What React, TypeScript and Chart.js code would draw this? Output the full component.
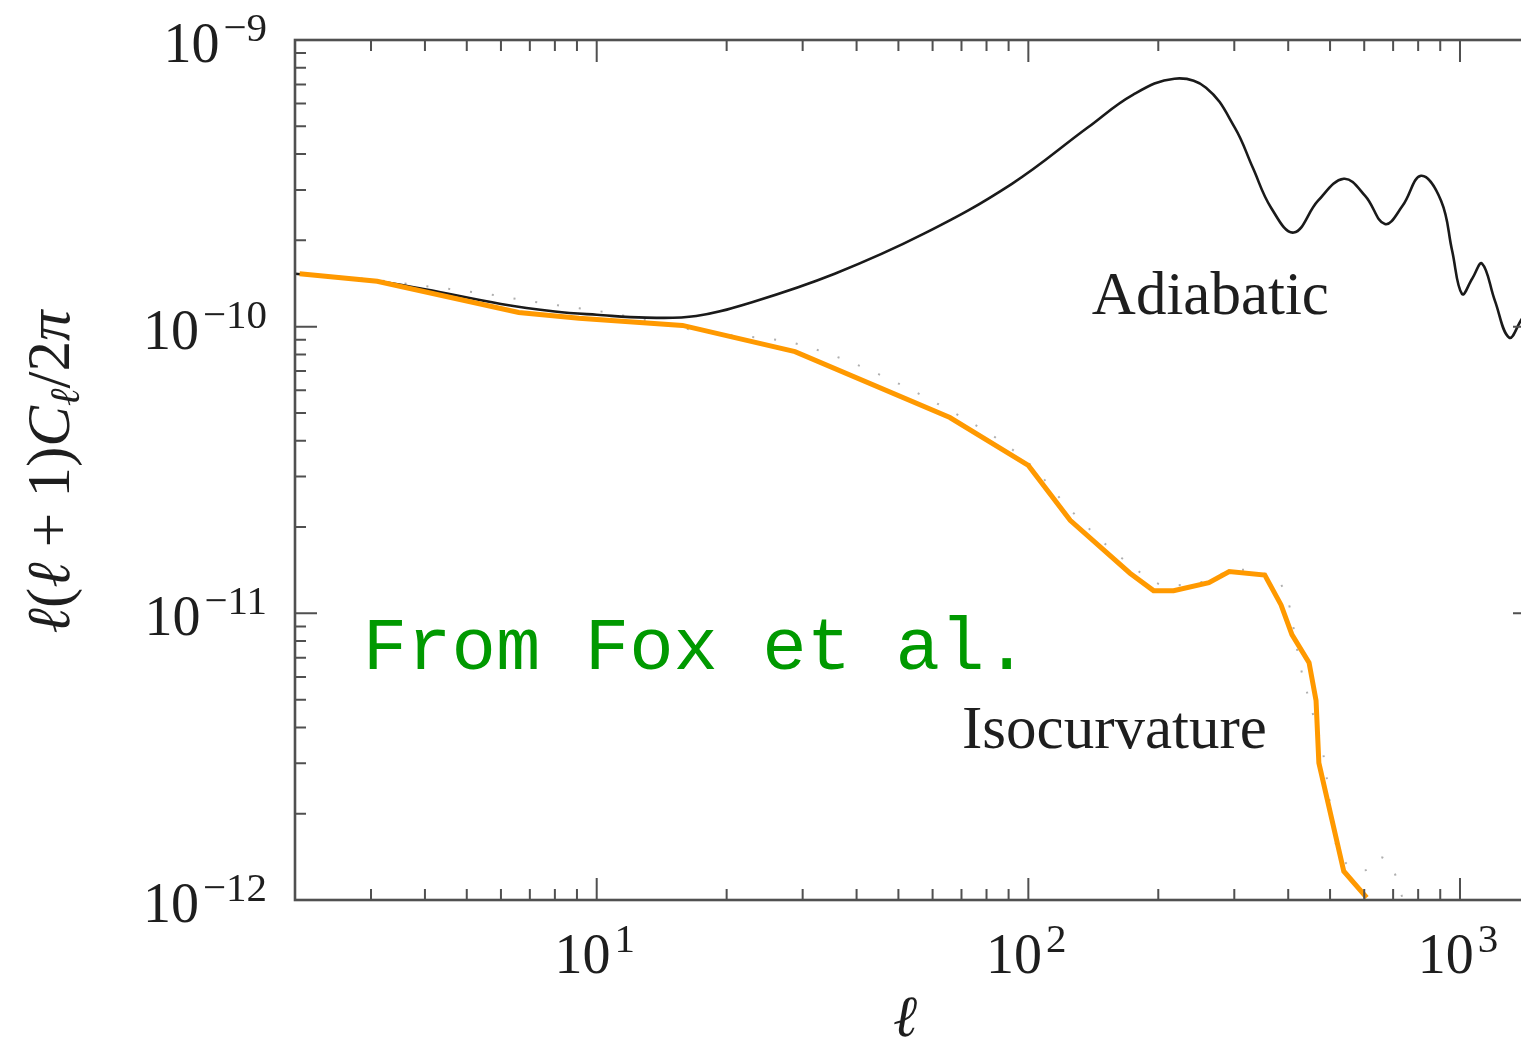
import React, { useEffect, useRef } from "react";
import { Chart, registerables } from "chart.js";

Chart.register(...registerables);

// Isocurvature (orange piecewise fit)
const isoL = [2.05, 3.1, 6.6, 9.1, 15.8, 28.8, 65.8, 100, 125, 172, 195, 217, 262, 292, 353, 385, 408, 447, 464, 471, 538, 608];
const isoC = [1.53e-10, 1.44e-10, 1.12e-10, 1.07e-10, 1.01e-10, 8.18e-11, 4.82e-11, 3.28e-11, 2.11e-11, 1.38e-11, 1.2e-11, 1.2e-11, 1.28e-11, 1.4e-11, 1.36e-11, 1.07e-11, 8.43e-12, 6.73e-12, 4.96e-12, 3.01e-12, 1.26e-12, 1.02e-12];

// Adiabatic (black curve)
const adL = [2, 3, 4, 6, 8, 10, 13, 17, 23, 35.6, 57.3, 91.6, 137, 175, 218, 258, 301, 331, 365, 412, 469, 538, 603, 670, 736, 812, 904, 959, 1011, 1067, 1125, 1205, 1300, 1394, 1480];
const adC = [1.53e-10, 1.45e-10, 1.35e-10, 1.2e-10, 1.13e-10, 1.1e-10, 1.075e-10, 1.09e-10, 1.22e-10, 1.53e-10, 2.11e-10, 3.15e-10, 4.94e-10, 6.45e-10, 7.33e-10, 6.82e-10, 4.94e-10, 3.59e-10, 2.6e-10, 2.13e-10, 2.75e-10, 3.28e-10, 2.86e-10, 2.28e-10, 2.64e-10, 3.36e-10, 2.75e-10, 1.84e-10, 1.3e-10, 1.47e-10, 1.66e-10, 1.23e-10, 9.16e-11, 1.07e-10, 1.2e-10];

// Isocurvature model (faint dotted curve)
const dotL = [2, 3, 3.95, 5.56, 7.18, 10.6, 17.6, 30, 65.8, 100, 125, 170, 210, 260, 300, 350, 400, 425, 452, 482, 519, 603, 653, 703, 726, 766];
const dotC = [1.53e-10, 1.46e-10, 1.39e-10, 1.3e-10, 1.22e-10, 1.12e-10, 9.6e-11, 8.6e-11, 5.1e-11, 3.35e-11, 2.3e-11, 1.5e-11, 1.25e-11, 1.3e-11, 1.42e-11, 1.38e-11, 1.1e-11, 6.73e-12, 4.69e-12, 3.24e-12, 1.52e-12, 1.27e-12, 1.41e-12, 1.26e-12, 1.08e-12, 8.5e-13];

// Axis ticks and labels
const xMajor = [10, 100, 1000];
const xExp = ["1", "2", "3"];
const yMajor = [1e-12, 1e-11, 1e-10, 1e-9];
const yExp = ["\u221212", "\u221211", "\u221210", "\u22129"];
const minorMultipliers = [2, 3, 4, 5, 6, 7, 8, 9];

// Text annotations
const notes = [
  { text: "Adiabatic", l: 140.3, c: 1.11e-10, font: '61px "Liberation Serif"', color: "#1e1e1e" },
  { text: "Isocurvature", l: 70.2, c: 3.4e-12, font: '61px "Liberation Serif"', color: "#1e1e1e" },
  { text: "From Fox et al.", l: 2.87, c: 6.37e-12, font: '74px "Liberation Mono"', color: "#009900" },
];

const AXIS = "#505050";
const TXT = "#1e1e1e";
const SERIF = '"Liberation Serif"';

function drawPow(ctx: CanvasRenderingContext2D, exp: string, x: number, baseY: number, align: "right" | "center") {
  const bf = `56px ${SERIF}`;
  const ef = `41px ${SERIF}`;
  ctx.font = bf;
  const wb = ctx.measureText("10").width;
  ctx.font = ef;
  const we = ctx.measureText(exp).width;
  const gap = 4;
  const total = wb + gap + we;
  const start = align === "right" ? x - total : x - total / 2;
  ctx.textAlign = "left";
  ctx.textBaseline = "alphabetic";
  ctx.fillStyle = TXT;
  ctx.font = bf;
  ctx.fillText("10", start, baseY);
  ctx.font = ef;
  ctx.fillText(exp, start + wb + gap, baseY - 21);
}

const framePlugin = {
  id: "frame",
  afterDraw(chart: any) {
    const { ctx, chartArea: a, scales } = chart;
    const xs = scales.x;
    const ys = scales.y;
    ctx.save();
    ctx.strokeStyle = AXIS;
    ctx.lineWidth = 2;
    ctx.beginPath();
    const xTickVals: { v: number; major: boolean }[] = [];
    for (const m of [1, 10, 100, 1000]) {
      for (const k of minorMultipliers) xTickVals.push({ v: m * k, major: false });
    }
    for (const v of xMajor) xTickVals.push({ v, major: true });
    for (const t of xTickVals) {
      const px = xs.getPixelForValue(t.v);
      if (px <= a.left + 1 || px >= a.right - 1) continue;
      const len = t.major ? 22 : 11;
      ctx.moveTo(px, a.bottom);
      ctx.lineTo(px, a.bottom - len);
      ctx.moveTo(px, a.top);
      ctx.lineTo(px, a.top + len);
    }
    const yTickVals: { v: number; major: boolean }[] = [];
    for (const m of [1e-12, 1e-11, 1e-10]) {
      for (const k of minorMultipliers) yTickVals.push({ v: m * k, major: false });
    }
    for (const v of yMajor) yTickVals.push({ v, major: true });
    for (const t of yTickVals) {
      const py = ys.getPixelForValue(t.v);
      const len = t.major ? 22 : 11;
      ctx.moveTo(a.left, py);
      ctx.lineTo(a.left + len, py);
      ctx.moveTo(a.right, py);
      ctx.lineTo(a.right - len, py);
    }
    ctx.stroke();
    ctx.lineWidth = 2.6;
    ctx.strokeRect(a.left, a.top, a.right - a.left, a.bottom - a.top);

    yMajor.forEach((v, i) => {
      const py = ys.getPixelForValue(v);
      drawPow(ctx, yExp[i], a.left - 28, py + 22, "right");
    });
    xMajor.forEach((v, i) => {
      const px = xs.getPixelForValue(v);
      drawPow(ctx, xExp[i], px - 2, a.bottom + 73, "center");
    });

    for (const n of notes) {
      ctx.font = n.font;
      ctx.fillStyle = n.color;
      ctx.textAlign = "left";
      ctx.textBaseline = "alphabetic";
      ctx.fillText(n.text, xs.getPixelForValue(n.l), ys.getPixelForValue(n.c));
    }

    ctx.fillStyle = TXT;
    ctx.font = `italic 58px ${SERIF}`;
    ctx.textAlign = "center";
    ctx.fillText("\u2113", 905, a.bottom + 136);

    const it = `italic 61px ${SERIF}`;
    const rm = `61px ${SERIF}`;
    const sub = `italic 42px ${SERIF}`;
    const pieces: [string, string, number][] = [
      ["\u2113", it, 0],
      ["(", rm, 0],
      ["\u2113", it, 0],
      [" + ", rm, 0],
      ["1)", rm, 0],
      ["C", it, 0],
      ["\u2113", sub, 10],
      ["/2", rm, 0],
      ["\u03c0", it, 0],
    ];
    let total = 0;
    const widths = pieces.map(([s, f]) => {
      ctx.font = f;
      const w = ctx.measureText(s).width;
      total += w;
      return w;
    });
    ctx.translate(69, 472);
    ctx.rotate(-Math.PI / 2);
    ctx.textAlign = "left";
    let xx = -total / 2;
    pieces.forEach(([s, f, dy], i) => {
      ctx.font = f;
      ctx.fillText(s, xx, dy);
      xx += widths[i];
    });
    ctx.restore();
  },
};

export default function App() {
  const ref = useRef<HTMLCanvasElement | null>(null);
  useEffect(() => {
    if (!ref.current) return;
    const chart = new Chart(ref.current, {
      type: "line",
      data: {
        datasets: [
          {
            label: "Isocurvature fit",
            data: isoL.map((l, i) => ({ x: l, y: isoC[i] })),
            borderColor: "#ff9900",
            borderWidth: 5,
            pointRadius: 0,
            tension: 0,
            fill: false,
          },
          {
            label: "Adiabatic",
            data: adL.map((l, i) => ({ x: l, y: adC[i] })),
            borderColor: "#1a1a1a",
            borderWidth: 2.6,
            pointRadius: 0,
            tension: 0.4,
            fill: false,
          },
          {
            label: "Isocurvature",
            data: dotL.map((l, i) => ({ x: l, y: dotC[i] })),
            borderColor: "rgba(110,110,110,0.55)",
            borderWidth: 2,
            borderDash: [2, 20],
            pointRadius: 0,
            cubicInterpolationMode: "monotone",
            fill: false,
          },
        ],
      },
      options: {
        responsive: false,
        animation: false,
        events: [],
        layout: { padding: { left: 295, right: 10, top: 40, bottom: 141 } },
        scales: {
          x: { type: "logarithmic", min: 2, max: 1492, display: false },
          y: { type: "logarithmic", min: 1e-12, max: 1e-9, display: false },
        },
        plugins: { legend: { display: false }, tooltip: { enabled: false } },
      } as any,
      plugins: [framePlugin],
    });
    return () => chart.destroy();
  }, []);
  return (
    <div
      style={{
        position: "fixed",
        left: 0,
        top: 0,
        width: 1521,
        height: 1041,
        overflow: "hidden",
        background: "#fff",
      }}
    >
      <canvas ref={ref} width={1545} height={1041} style={{ display: "block" }} />
    </div>
  );
}
